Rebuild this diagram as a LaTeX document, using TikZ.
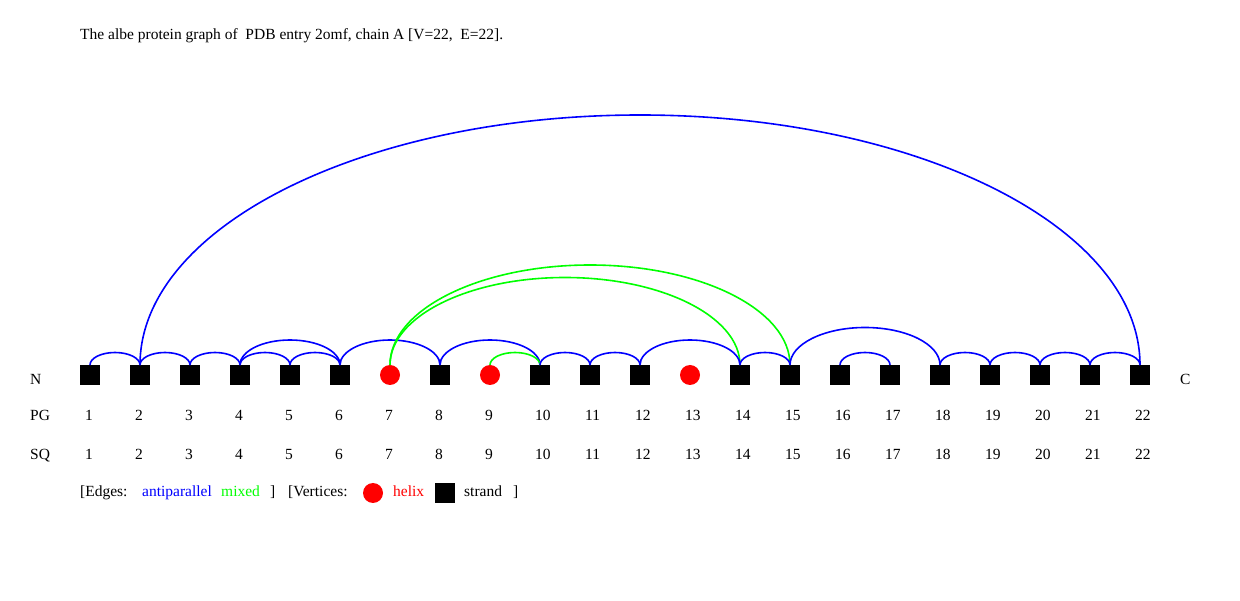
\documentclass[tikz,border=0pt]{standalone}
\usepackage{fontspec}
\setmainfont{Liberation Serif}
\usetikzlibrary{positioning,calc}

\definecolor{apblue}{RGB}{0,0,255}
\definecolor{mxgreen}{RGB}{0,255,0}
\definecolor{hxred}{RGB}{255,0,0}

% edge between two vertices: half ellipse over the chain
\newcommand{\sseedge}[3]{\draw[edge, #3] let \p1=(#1.north), \p2=(#2.north) in
  (\p1) arc[start angle=180, end angle=0, x radius={0.5*(\x2-\x1)}, y radius={0.25*(\x2-\x1)}];}

\begin{document}
\begin{tikzpicture}[node distance=30pt, font=\fontsize{15.5}{18}\selectfont,
  strand/.style={draw=none, fill=black, rectangle, minimum size=20pt, inner sep=0pt, outer sep=0pt},
  helix/.style={draw=none, fill=hxred, circle, minimum size=20pt, inner sep=0pt, outer sep=0pt},
  lbl/.style={inner sep=0pt, anchor=base west},
  edge/.style={line width=1.6pt}]

\useasboundingbox (0,0) rectangle (1240pt,600pt);

\node[lbl] (title) at (80pt,560pt) {The albe protein graph of \ PDB entry 2omf, chain A [V=22, \ E=22].};

% Vertices
\node[strand] (v1) at (90pt,225pt) {};
\node[strand, right=of v1] (v2) {};
\node[strand, right=of v2] (v3) {};
\node[strand, right=of v3] (v4) {};
\node[strand, right=of v4] (v5) {};
\node[strand, right=of v5] (v6) {};
\node[helix, right=of v6] (v7) {};
\node[strand, right=of v7] (v8) {};
\node[helix, right=of v8] (v9) {};
\node[strand, right=of v9] (v10) {};
\node[strand, right=of v10] (v11) {};
\node[strand, right=of v11] (v12) {};
\node[helix, right=of v12] (v13) {};
\node[strand, right=of v13] (v14) {};
\node[strand, right=of v14] (v15) {};
\node[strand, right=of v15] (v16) {};
\node[strand, right=of v16] (v17) {};
\node[strand, right=of v17] (v18) {};
\node[strand, right=of v18] (v19) {};
\node[strand, right=of v19] (v20) {};
\node[strand, right=of v20] (v21) {};
\node[strand, right=of v21] (v22) {};

\node[lbl] (nterm) at (30pt,215pt) {N};
\node[lbl] (cterm) at (1180pt,215pt) {C};
\node[lbl] (pgrow) at (30pt,179pt) {PG};
\node[lbl] (sqrow) at (30pt,140pt) {SQ};

\foreach \i in {1,...,22} {
  \node[lbl] (pg\i) at ([xshift=-5pt]v\i |- pgrow.base) {\i};
  \node[lbl] (sq\i) at ([xshift=-5pt]v\i |- sqrow.base) {\i};
}

% Edges
\sseedge{v1}{v2}{apblue}
\sseedge{v2}{v3}{apblue}
\sseedge{v2}{v22}{apblue}
\sseedge{v3}{v4}{apblue}
\sseedge{v4}{v5}{apblue}
\sseedge{v4}{v6}{apblue}
\sseedge{v5}{v6}{apblue}
\sseedge{v6}{v8}{apblue}
\sseedge{v7}{v14}{mxgreen}
\sseedge{v7}{v15}{mxgreen}
\sseedge{v8}{v10}{apblue}
\sseedge{v9}{v10}{mxgreen}
\sseedge{v10}{v11}{apblue}
\sseedge{v11}{v12}{apblue}
\sseedge{v12}{v14}{apblue}
\sseedge{v14}{v15}{apblue}
\sseedge{v15}{v18}{apblue}
\sseedge{v16}{v17}{apblue}
\sseedge{v18}{v19}{apblue}
\sseedge{v19}{v20}{apblue}
\sseedge{v20}{v21}{apblue}
\sseedge{v21}{v22}{apblue}

% Legend
\node[lbl] (edgeskey) at (80pt,103pt) {[Edges:};
\node[lbl, text=apblue] (apkey) at (142pt,103pt) {antiparallel};
\node[lbl, text=mxgreen] (mxkey) at (221pt,103pt) {mixed};
\node[lbl] (edgesend) at (270pt,103pt) {]};
\node[lbl] (vertkey) at (288pt,103pt) {[Vertices:};
\node[helix] (hxsym) at (373pt,107pt) {};
\node[lbl, text=hxred] (hxkey) at (393pt,103pt) {helix};
\node[strand] (stsym) at (445pt,107pt) {};
\node[lbl] (stkey) at (464pt,103pt) {strand};
\node[lbl] (vertend) at (513pt,103pt) {]};

\end{tikzpicture}
\end{document}
